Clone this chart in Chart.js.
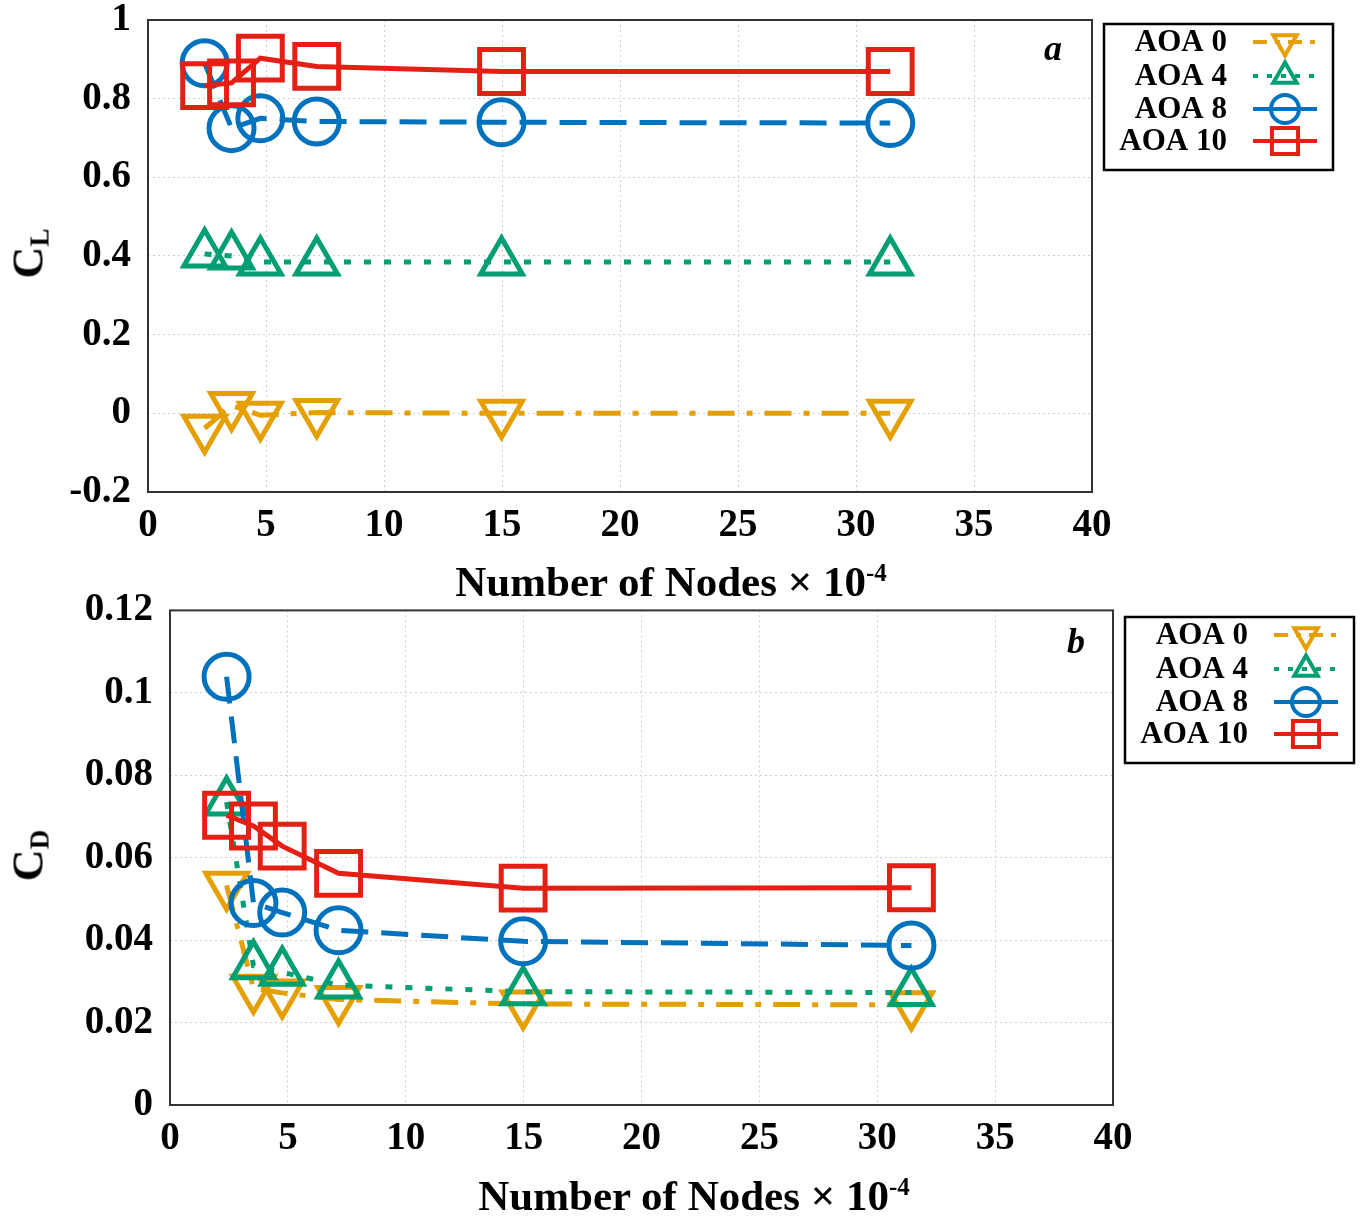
<!DOCTYPE html>
<html>
  <head>
    <title>CL and CD vs number of nodes</title>
    <meta charset="UTF-8" />
    <script src="https://cdn.jsdelivr.net/npm/chart.js"></script>
    <style>
      body { margin: 0; background: #fff; font-family: "Liberation Serif", "Times New Roman", serif; overflow: hidden; }
      .box { position: absolute; left: 0; width: 1368px; }
      .lbl { position: absolute; font-weight: bold; color: #000; white-space: nowrap; }
      .xt { font-size: 43px; text-align: center; width: 700px; line-height: 44px; }
      .yt { font-size: 44px; transform: rotate(-90deg); transform-origin: center; width: 80px; text-align: center; line-height: 44px; }
      .yt sub { font-size: 27px; vertical-align: -6px; }
      .xt sup { font-size: 25px; vertical-align: 15px; }
      .tag { font-size: 36px; font-style: italic; }
    </style>
  </head>

  <body>
    <div class="box" style="top:-40px;height:640px"><canvas id="chartL" width="1368" height="640"></canvas></div>
    <div class="box" style="top:570px;height:647px"><canvas id="chartD" width="1368" height="647"></canvas></div>

    <div class="lbl yt" style="left:-6px;top:226px">C<sub>L</sub></div>
    <div class="lbl yt" style="left:-6px;top:828px">C<sub>D</sub></div>
    <div class="lbl xt" style="left:321px;top:551px">Number of Nodes &times; 10<sup>-4</sup></div>
    <div class="lbl xt" style="left:344px;top:1165px">Number of Nodes &times; 10<sup>-4</sup></div>
    <div class="lbl tag" style="left:1044px;top:27px">a</div>
    <div class="lbl tag" style="left:1067px;top:620px">b</div>

    <script>
      // node counts (x 10^4), shared by both panels
      const nodes = [2.4, 3.54, 4.76, 7.15, 14.98, 31.45];
      const seriesNames = ["AOA 0", "AOA 4", "AOA 8", "AOA 10"];

      // lift coefficient
      const clAoa0 = [-0.038, 0.02, -0.005, 0.002, 0, 0];
      const clAoa4 = [0.405, 0.40, 0.385, 0.385, 0.385, 0.385];
      const clAoa8 = [0.89, 0.725, 0.75, 0.742, 0.74, 0.738];
      const clAoa10 = [0.833, 0.84, 0.903, 0.882, 0.869, 0.869];

      // drag coefficient
      const cdAoa0 = [0.0533, 0.0283, 0.0272, 0.0256, 0.0245, 0.0243];
      const cdAoa4 = [0.0735, 0.0338, 0.0322, 0.0291, 0.0275, 0.0273];
      const cdAoa8 = [0.1039, 0.049, 0.0467, 0.0424, 0.0397, 0.0387];
      const cdAoa10 = [0.0703, 0.0677, 0.0628, 0.0562, 0.0526, 0.0527];

      // tick labels
      const xTicks = [0, 5, 10, 15, 20, 25, 30, 35, 40];
      const clTicks = [-0.2, 0, 0.2, 0.4, 0.6, 0.8, 1];
      const cdTicks = [0, 0.02, 0.04, 0.06, 0.08, 0.1, 0.12];

      const FONT = '"Liberation Serif", "Times New Roman", serif';
      const looks = [
        { color: "#E69F00", dash: [27, 12, 6, 12], style: "triangle", rot: 180, r: 24 },
        { color: "#009E73", dash: [7, 13], style: "triangle", rot: 0, r: 24 },
        { color: "#0072BD", dash: [27, 13], style: "circle", rot: 0, r: 22.5 },
        { color: "#E41F14", dash: [], style: "rect", rot: 0, r: 31 }
      ];

      function makeDatasets(values) {
        return values.map((vals, i) => ({
          label: seriesNames[i],
          data: vals.map((v, k) => ({ x: nodes[k], y: v })),
          borderColor: looks[i].color,
          borderWidth: 5,
          borderDash: looks[i].dash,
          pointStyle: looks[i].style,
          pointRotation: looks[i].rot,
          pointRadius: looks[i].r,
          pointBorderWidth: 5,
          pointBorderColor: looks[i].color,
          pointBackgroundColor: "rgba(0,0,0,0)",
          fill: false,
          tension: 0,
          order: 4 - i
        }));
      }

      // own marker routine for the legend
      function marker(ctx, style, rot, x, y, r) {
        ctx.beginPath();
        if (style === "circle") {
          ctx.arc(x, y, r, 0, Math.PI * 2);
        } else if (style === "rect") {
          const s = r * Math.SQRT1_2;
          ctx.rect(x - s, y - s, 2 * s, 2 * s);
        } else {
          let a = rot * Math.PI / 180;
          for (let k = 0; k < 3; k++) {
            const px = x + Math.sin(a) * r, py = y - Math.cos(a) * r;
            k === 0 ? ctx.moveTo(px, py) : ctx.lineTo(px, py);
            a += 2 * Math.PI / 3;
          }
          ctx.closePath();
        }
        ctx.stroke();
      }

      const framePlugin = {
        id: "frame",
        beforeDatasetsDraw(chart) {
          const a = chart.chartArea, ctx = chart.ctx;
          ctx.save();
          ctx.strokeStyle = "#333";
          ctx.lineWidth = 2;
          ctx.strokeRect(a.left, a.top, a.right - a.left, a.bottom - a.top);
          ctx.restore();
        }
      };

      const legendPlugin = {
        id: "boxLegend",
        afterDraw(chart, args, opts) {
          const ctx = chart.ctx, bx = opts.x, by = opts.y;
          ctx.save();
          ctx.fillStyle = "#fff";
          ctx.fillRect(bx, by, 229, 146);
          ctx.strokeStyle = "#000";
          ctx.lineWidth = 2.5;
          ctx.strokeRect(bx, by, 229, 146);
          ctx.font = "bold 31px " + FONT;
          ctx.textAlign = "right";
          ctx.textBaseline = "middle";
          const rows = [18, 52, 85, 117];
          seriesNames.forEach((name, i) => {
            const y = by + rows[i];
            ctx.fillStyle = "#000";
            ctx.fillText(name, bx + 123, y + 1);
            ctx.strokeStyle = looks[i].color;
            ctx.lineWidth = 4;
            ctx.setLineDash(i === 0 ? [14, 8, 5, 8] : i === 1 ? [5, 9] : []);
            ctx.beginPath();
            ctx.moveTo(bx + 149, y);
            ctx.lineTo(bx + 213, y);
            ctx.stroke();
            ctx.setLineDash([]);
            const rr = looks[i].style === "rect" ? 18.5 : looks[i].style === "circle" ? 14 : 13.5;
            marker(ctx, looks[i].style, looks[i].rot, bx + 181, y, rr);
          });
          ctx.restore();
        }
      };

      function buildChart(id, values, yTicks, area, legendPos) {
        const canvas = document.getElementById(id);
        const chart = new Chart(canvas.getContext("2d"), {
          type: "line",
          data: { datasets: makeDatasets(values) },
          plugins: [framePlugin, legendPlugin],
          options: {
            responsive: false,
            animation: false,
            layout: { padding: { top: area.top, right: canvas.width - area.right, left: 0, bottom: 0 } },
            plugins: {
              legend: { display: false },
              tooltip: { enabled: false },
              boxLegend: legendPos
            },
            scales: {
              x: {
                type: "linear",
                min: xTicks[0],
                max: xTicks[xTicks.length - 1],
                afterBuildTicks: (s) => { s.ticks = xTicks.map((v) => ({ value: v })); },
                afterFit: (s) => { s.height = canvas.height - area.bottom; },
                grid: { color: "#cfcfcf", drawTicks: false, lineWidth: 1 },
                border: { display: false, dash: [2, 3] },
                ticks: { color: "#000", padding: 11, maxRotation: 0, font: { family: FONT, size: 39, weight: "bold" } }
              },
              y: {
                min: yTicks[0],
                max: yTicks[yTicks.length - 1],
                afterBuildTicks: (s) => { s.ticks = yTicks.map((v) => ({ value: v })); },
                afterFit: (s) => { s.width = area.left; },
                grid: { color: "#cfcfcf", drawTicks: false, lineWidth: 1 },
                border: { display: false, dash: [2, 3] },
                ticks: {
                  color: "#000",
                  padding: 17,
                  font: { family: FONT, size: 39, weight: "bold" },
                  callback: (v) => String(Number(v.toFixed(3)))
                }
              }
            }
          }
        });
        // nudge padding so the plot box lands where it should
        for (let k = 0; k < 4; k++) {
          const pad = chart.options.layout.padding;
          const dt = chart.chartArea.top - area.top;
          const dr = chart.chartArea.right - area.right;
          if (Math.abs(dt) < 0.5 && Math.abs(dr) < 0.5) break;
          pad.top = Math.max(0, pad.top - dt);
          pad.right = Math.max(0, pad.right + dr);
          chart.update();
        }
        return chart;
      }

      buildChart("chartL", [clAoa0, clAoa4, clAoa8, clAoa10], clTicks,
        { left: 148, right: 1092, top: 60, bottom: 532 }, { x: 1104, y: 64 });
      buildChart("chartD", [cdAoa0, cdAoa4, cdAoa8, cdAoa10], cdTicks,
        { left: 170, right: 1113, top: 40, bottom: 535 }, { x: 1125, y: 47 });
    </script>
  </body>
</html>
